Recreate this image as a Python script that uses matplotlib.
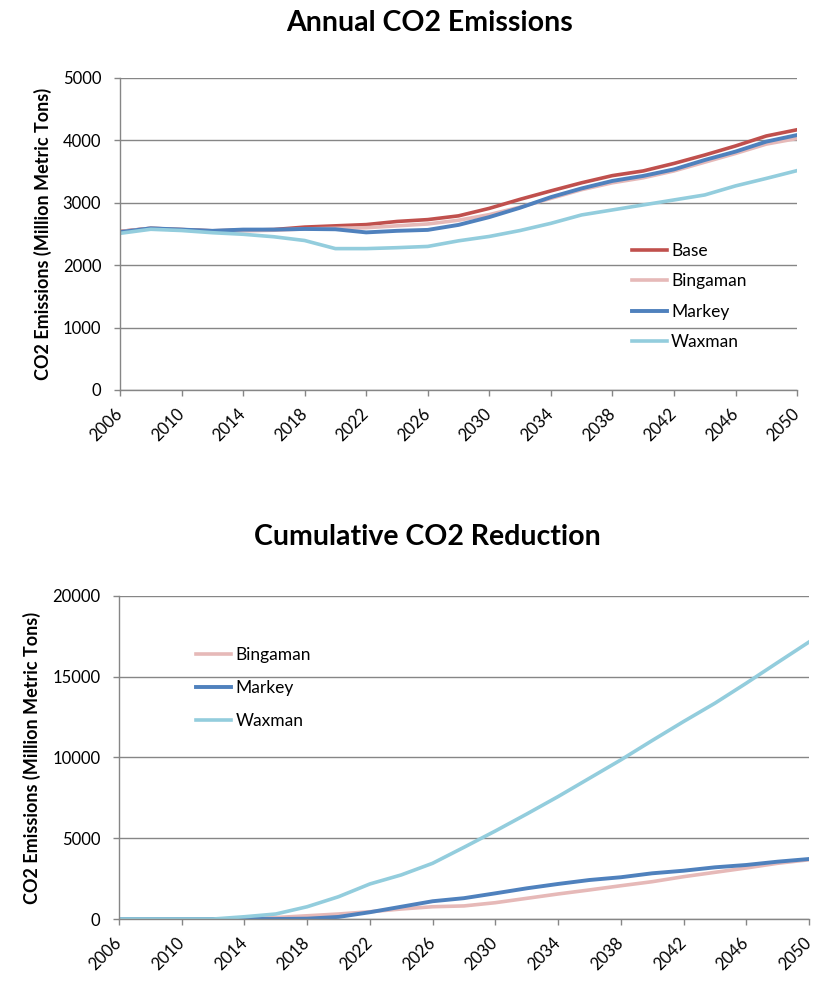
import numpy as np
import matplotlib
matplotlib.use('Agg')
import matplotlib.pyplot as plt

plt.rcParams['font.family'] = ['Lato', 'DejaVu Sans']

years = list(range(2006, 2051, 2))

# annual emissions, million metric tons
base = [2540, 2590, 2570, 2550, 2560, 2570, 2610, 2630, 2650, 2700, 2730, 2790,
        2910, 3055, 3190, 3320, 3435, 3510, 3630, 3765, 3910, 4070, 4170]
bingaman = [2540, 2590, 2570, 2540, 2550, 2560, 2580, 2590, 2600, 2630, 2660, 2720,
            2810, 2930, 3070, 3210, 3320, 3400, 3510, 3650, 3790, 3940, 4030]
markey = [2530, 2590, 2570, 2550, 2570, 2570, 2580, 2575, 2525, 2550, 2565, 2645,
          2770, 2920, 3090, 3230, 3350, 3430, 3535, 3685, 3820, 3980, 4085]
waxman = [2510, 2575, 2555, 2520, 2495, 2455, 2395, 2265, 2265, 2280, 2300, 2390,
          2460, 2555, 2670, 2805, 2885, 2965, 3045, 3125, 3270, 3390, 3515]

# cumulative reduction
cum_bingaman = [0, 0, 0, 0, 30, 90, 200, 310, 450, 620, 760, 810,
                1010, 1280, 1550, 1800, 2060, 2310, 2620, 2890, 3160, 3450, 3670]
cum_markey = [0, 0, 0, 0, 0, 0, 20, 130, 420, 760, 1100, 1290,
              1590, 1900, 2170, 2415, 2585, 2830, 2990, 3200, 3345, 3550, 3715]
cum_waxman = [0, 0, 0, 0, 140, 310, 760, 1380, 2170, 2730, 3450, 4440,
              5450, 6500, 7580, 8715, 9850, 11050, 12225, 13360, 14600, 15880, 17150]

tick_years = list(range(2006, 2051, 4))

c_base = '#C0504D'
c_bing = '#E6B9B8'
c_mark = '#4F81BD'
c_wax = '#93CDDD'
grid_c = '#868686'


def style_axes(ax, ymax, ystep):
    ax.set_xlim(2006, 2050)
    ax.set_ylim(0, ymax)
    ax.set_yticks(np.arange(0, ymax + 1, ystep))
    ax.set_xticks(tick_years)
    ax.set_xticklabels([str(y) for y in tick_years], rotation=45, ha='right',
                       va='center', rotation_mode='anchor', fontsize=12)
    ax.tick_params(axis='y', labelsize=12, length=4.5, color=grid_c, width=1, pad=9)
    ax.tick_params(axis='x', length=4.5, color=grid_c, width=1, pad=11)
    ax.grid(axis='y', color=grid_c, linewidth=1)
    ax.set_axisbelow(True)
    for s in ['top', 'right']:
        ax.spines[s].set_visible(False)
    for s in ['left', 'bottom']:
        ax.spines[s].set_color(grid_c)
        ax.spines[s].set_linewidth(1)
    ax.set_ylabel('CO2 Emissions (Million Metric Tons)', fontsize=13,
                  fontweight='bold', labelpad=8)


fig = plt.figure(figsize=(8.15, 9.83), dpi=100)

ax1 = fig.add_axes([0.1472, 0.6033, 0.8308, 0.3174])
ax1.plot(years, base, color=c_base, lw=2.6, label='Base')
ax1.plot(years, bingaman, color=c_bing, lw=2.6, label='Bingaman')
ax1.plot(years, markey, color=c_mark, lw=2.8, label='Markey')
ax1.plot(years, waxman, color=c_wax, lw=2.6, label='Waxman')
style_axes(ax1, 5000, 1000)
ax1.legend(loc='upper left', bbox_to_anchor=(0.756, 0.471), frameon=False,
           borderpad=0, borderaxespad=0, fontsize=12.5, handlelength=2.0,
           handletextpad=0.25, labelspacing=0.83)
fig.text(0.527, 0.977, 'Annual CO2 Emissions', ha='center', va='center',
         fontsize=20.5, fontweight='bold')

ax2 = fig.add_axes([0.146, 0.0651, 0.8466, 0.3286])
ax2.plot(years, cum_bingaman, color=c_bing, lw=2.6, label='Bingaman')
ax2.plot(years, cum_markey, color=c_mark, lw=2.8, label='Markey')
ax2.plot(years, cum_waxman, color=c_wax, lw=2.6, label='Waxman')
style_axes(ax2, 20000, 5000)
ax2.legend(loc='upper left', bbox_to_anchor=(0.112, 0.842), frameon=False,
           borderpad=0, borderaxespad=0, fontsize=12.5, handlelength=2.0,
           handletextpad=0.25, labelspacing=0.99)
fig.text(0.525, 0.454, 'Cumulative CO2 Reduction', ha='center', va='center',
         fontsize=20.5, fontweight='bold')

fig.savefig('out.png', dpi=100)
